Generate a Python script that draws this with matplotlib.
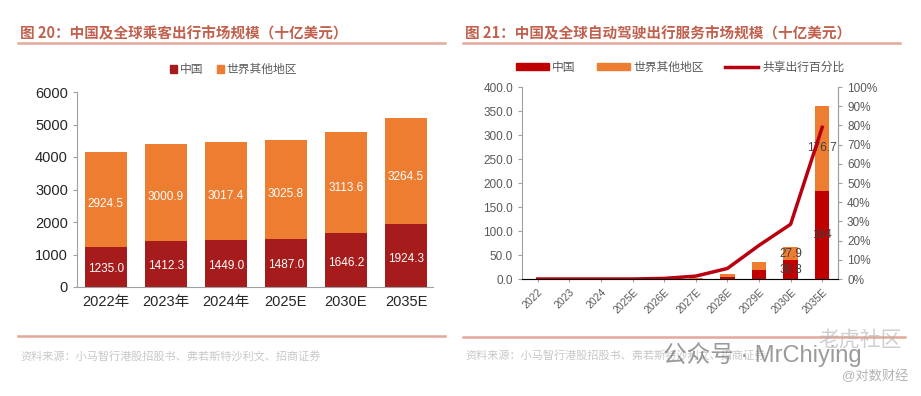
import numpy as np
import matplotlib
matplotlib.use("Agg")
import matplotlib.pyplot as plt
from matplotlib.lines import Line2D
from matplotlib.patches import Patch
from matplotlib.ticker import PercentFormatter, FormatStrFormatter

plt.rcParams['font.family'] = ['Liberation Sans', 'Noto Sans CJK SC', 'DejaVu Sans']

# left chart data: passenger mobility market (bn USD)
left_cats = ['2022年', '2023年', '2024年', '2025E', '2030E', '2035E']
left_china = [1235.0, 1412.3, 1449.0, 1487.0, 1646.2, 1924.3]
left_other = [2924.5, 3000.9, 3017.4, 3025.8, 3113.6, 3264.5]

# right chart data: robotaxi service market (bn USD) and share of shared mobility
right_cats = ['2022', '2023', '2024', '2025E', '2026E', '2027E', '2028E', '2029E', '2030E', '2035E']
right_china = [0.1, 0.1, 0.1, 0.2, 0.4, 1.0, 4.5, 18.5, 38.8, 184.0]
right_other = [0.8, 0.3, 0.3, 0.4, 0.6, 2.0, 5.5, 16.5, 27.9, 176.7]
right_share = [0.0, 0.0, 0.0, 0.0, 0.3, 1.5, 5.5, 17.5, 28.5, 79.0]
right_labels = {8: ('38.8', '27.9'), 9: ('184', '176.7')}

title_col = '#C0604D'
rule_col = '#E3A898'
gray = '#595959'

fig = plt.figure(figsize=(9.21, 3.96), dpi=100)

# titles and rules
fig.text(20 / 921, 1 - 33 / 396, '图 20：中国及全球乘客出行市场规模（十亿美元）',
         fontsize=10.5, color=title_col, fontweight='bold', va='center',
         family=['Noto Sans CJK SC', 'DejaVu Sans'])
fig.text(465 / 921, 1 - 33 / 396, '图 21：中国及全球自动驾驶出行服务市场规模（十亿美元）',
         fontsize=10.5, color=title_col, fontweight='bold', va='center',
         family=['Noto Sans CJK SC', 'DejaVu Sans'])
for x0, x1, y in [(18, 445, 43), (463, 900, 43), (18, 445, 336), (463, 905, 337)]:
    fig.add_artist(Line2D([x0 / 921, x1 / 921], [1 - y / 396] * 2, color=rule_col, lw=1.8))

src = '资料来源：小马智行港股招股书、弗若斯特沙利文、招商证券'
fig.text(20 / 921, 1 - 357 / 396, src, fontsize=8, color='#C8C8C8', va='center',
         family=['Noto Sans CJK SC'])
fig.text(465 / 921, 1 - 356 / 396, src, fontsize=8, color='#C8C8C8', va='center',
         family=['Noto Sans CJK SC'])

# ---- left chart ----
ax1 = fig.add_axes([77 / 921, 1 - 287 / 396, 356 / 921, 195 / 396])
x = np.arange(len(left_cats))
c_china_l = '#A61B1B'
c_other = '#ED7D31'
ax1.bar(x, left_china, width=0.7, color=c_china_l)
ax1.bar(x, left_other, width=0.7, bottom=left_china, color=c_other)
for i in range(len(x)):
    ax1.text(x[i], left_china[i] * 0.45, f'{left_china[i]:.1f}', ha='center', va='center',
             color='white', fontsize=8.5)
    ax1.text(x[i], left_china[i] + left_other[i] * 0.45, f'{left_other[i]:.1f}',
             ha='center', va='center', color='white', fontsize=8.5)
ax1.set_xlim(-0.48, 5.45)
ax1.set_ylim(0, 6000)
ax1.set_yticks(range(0, 6001, 1000))
ax1.set_xticks(x)
ax1.set_xticklabels(left_cats, fontsize=10.5, color='#262626')
ax1.tick_params(axis='y', labelsize=10.5, labelcolor='#262626', length=3, color='#A0A0A0')
ax1.tick_params(axis='x', length=0, pad=6)
for s in ['top', 'right']:
    ax1.spines[s].set_visible(False)
for s in ['left', 'bottom']:
    ax1.spines[s].set_color('#A0A0A0')
ax1.legend(handles=[Patch(color=c_china_l, label='中国'), Patch(color=c_other, label='世界其他地区')],
           loc='center', bbox_to_anchor=(0.44, 1.113), ncol=2, frameon=False, fontsize=8.5,
           handlelength=0.6, handleheight=0.6, handletextpad=0.2, columnspacing=1.2,
           labelcolor=gray)

# ---- right chart ----
ax2 = fig.add_axes([522 / 921, 1 - 279 / 396, 316 / 921, 192 / 396])
xr = np.arange(len(right_cats))
c_china_r = '#C00000'
ax2.bar(xr, right_china, width=0.45, color=c_china_r)
ax2.bar(xr, right_other, width=0.45, bottom=right_china, color=c_other)
for i, (lc, lo) in right_labels.items():
    ax2.text(xr[i], right_china[i] / 2, lc, ha='center', va='center', color='#404040', fontsize=8.5)
    ax2.text(xr[i], right_china[i] + right_other[i] / 2, lo, ha='center', va='center',
             color='#404040', fontsize=8.5)
ax2.set_xlim(-0.5, 9.5)
ax2.set_ylim(0, 400)
ax2.set_yticks(np.arange(0, 401, 50))
ax2.yaxis.set_major_formatter(FormatStrFormatter('%.1f'))
ax2.set_xticks(xr)
ax2.set_xticklabels(right_cats, rotation=45, ha='right', rotation_mode='anchor', fontsize=7.5, color=gray)
ax2.tick_params(axis='y', labelsize=8.5, labelcolor=gray, length=3, color='#A0A0A0')
ax2.tick_params(axis='x', length=2, color='#A0A0A0')
for s in ['top']:
    ax2.spines[s].set_visible(False)
for s in ['left', 'bottom', 'right']:
    ax2.spines[s].set_color('#A0A0A0')

ax3 = ax2.twinx()
ax3.plot(xr, right_share, color='#B80010', lw=2.5)
ax3.set_ylim(0, 100)
ax3.set_yticks(np.arange(0, 101, 10))
ax3.yaxis.set_major_formatter(PercentFormatter(decimals=0))
ax3.tick_params(axis='y', labelsize=8.5, labelcolor=gray, length=3, color='#A0A0A0')
ax3.spines['top'].set_visible(False)
ax3.spines['right'].set_color('#A0A0A0')
ax3.spines['left'].set_visible(False)

ax2.legend(handles=[Patch(color=c_china_r, label='中国'), Patch(color=c_other, label='世界其他地区'),
                    Line2D([], [], color='#B80010', lw=2.5, label='共享出行百分比')],
           loc='center', bbox_to_anchor=(0.5, 1.1), ncol=3, frameon=False, fontsize=8.5,
           handlelength=2.8, handleheight=0.45, handletextpad=0.3, columnspacing=1.8,
           labelcolor=gray)

# watermark text
fig.text(762 / 921, 1 - 355 / 396, '公众号 · MrChiying', fontsize=17, color='#707070', alpha=0.7,
         ha='center', va='center')
fig.text(860 / 921, 1 - 340 / 396, '老虎社区', fontsize=15, color='#B0B0B0', alpha=0.6,
         ha='center', va='center', style='italic')
fig.text(875 / 921, 1 - 376 / 396, '@对数财经', fontsize=9.5, color='#A0A0A0', alpha=0.8,
         ha='center', va='center')

fig.savefig('out.png', dpi=100)
